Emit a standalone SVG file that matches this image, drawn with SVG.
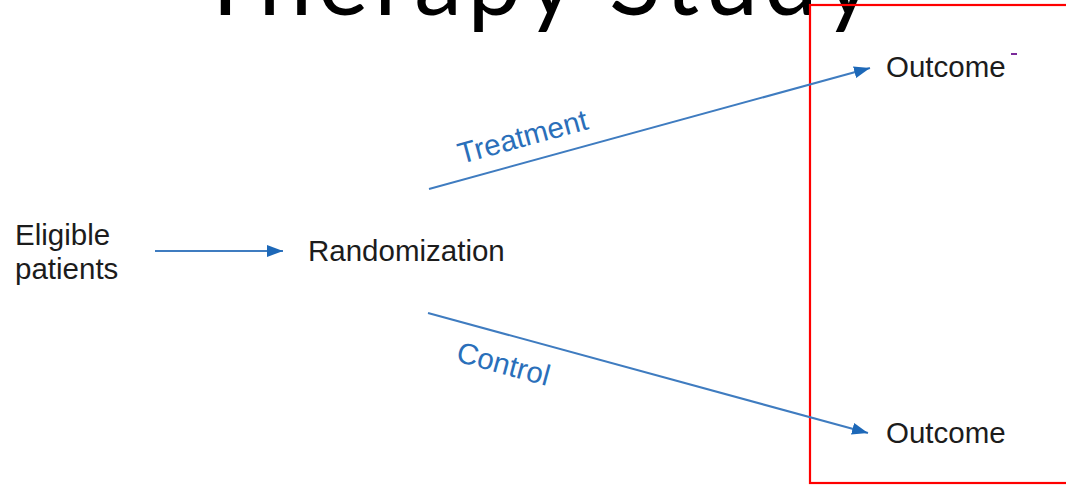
<svg xmlns="http://www.w3.org/2000/svg" width="1066" height="485" viewBox="0 0 1066 485">
<style>
.node{font-family:"Liberation Sans",Arial,sans-serif;font-size:29.5px;fill:#1c1c1c}
.lbl{font-family:"Liberation Sans",Arial,sans-serif;font-size:29.5px;fill:#2a6fba}
.title{font-family:Lato,"Liberation Sans",sans-serif;font-size:96px;fill:#000}
.edge{stroke:#3f7cc0;stroke-width:2;fill:none}
</style>
<defs>
<marker id="ah" markerUnits="userSpaceOnUse" markerWidth="16" markerHeight="12" refX="16" refY="6" orient="auto">
<path d="M0,0 L16,6 L0,12 z" fill="#1d68b8"/>
</marker>
</defs>
<rect width="1066" height="485" fill="#fff"/>
<text class="title" x="197" y="15" textLength="676" lengthAdjust="spacing">Therapy Study</text>
<rect x="810" y="5" width="300" height="478" fill="none" stroke="#ff0000" stroke-width="2.2"/>
<g id="connectors">
<line class="edge" x1="155" y1="251" x2="283" y2="251" marker-end="url(#ah)"/>
<line class="edge" x1="429" y1="189" x2="870" y2="68" marker-end="url(#ah)"/>
<line class="edge" x1="428" y1="313" x2="868" y2="433" marker-end="url(#ah)"/>
<text class="lbl" transform="translate(461,164) rotate(-15.3)" font-size="30.5">Treatment</text>
<text class="lbl" transform="translate(455,361) rotate(15.3)">Control</text>
</g>
<g id="eligible">
<text class="node" x="15" y="245" font-size="29">Eligible</text>
<text class="node" x="15" y="279" font-size="29">patients</text>
</g>
<g id="randomization">
<text class="node" x="308" y="261" font-size="30.2">Randomization</text>
</g>
<g id="outcome-treatment">
<text class="node" x="886" y="77">Outcome</text>
<rect x="1011" y="53" width="6" height="2" fill="#7a2a9a"/>
</g>
<g id="outcome-control">
<text class="node" x="886" y="443">Outcome</text>
</g>
</svg>
